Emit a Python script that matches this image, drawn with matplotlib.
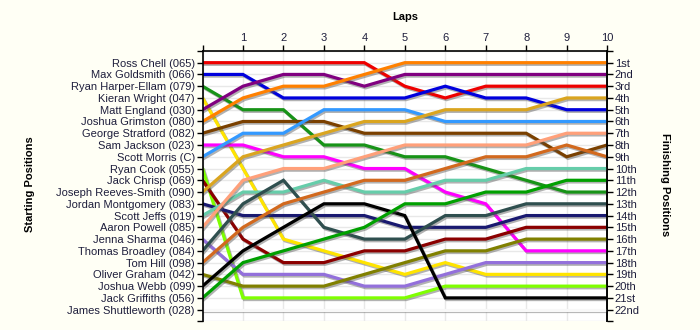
import matplotlib
matplotlib.use("Agg")
import matplotlib.pyplot as plt
import matplotlib.patheffects as pe

plt.rcParams['font.family'] = ['Liberation Sans', 'DejaVu Sans']

laps = list(range(0, 11))

drivers = [
    "Ross Chell (065)", "Max Goldsmith (066)", "Ryan Harper-Ellam (079)",
    "Kieran Wright (047)", "Matt England (030)", "Joshua Grimston (080)",
    "George Stratford (082)", "Sam Jackson (023)", "Scott Morris (C)",
    "Ryan Cook (055)", "Jack Chrisp (069)", "Joseph Reeves-Smith (090)",
    "Jordan Montgomery (083)", "Scott Jeffs (019)", "Aaron Powell (085)",
    "Jenna Sharma (046)", "Thomas Broadley (084)", "Tom Hill (098)",
    "Oliver Graham (042)", "Joshua Webb (099)", "Jack Griffiths (056)",
    "James Shuttleworth (028)",
]

colors = [
    "#ee0000", "#0000dd", "#179317", "#ffe400", "#800080", "#ff8000",
    "#7a4000", "#ff00ff", "#3399ff", "#7fff00", "#8b0000", "#daa520",
    "#191970", "#66cdaa", "#ffa07a", "#9370db", "#2f4f4f", "#d2691e",
    "#808000", "#000000", "#00a000", "#f8f8f8",
]

# position of each driver at the end of every lap (lap 0 = grid)
ross_chell        = [1, 1, 1, 1, 1, 3, 4, 3, 3, 3, 3]
max_goldsmith     = [2, 2, 4, 4, 4, 4, 3, 4, 4, 5, 5]
ryan_harper_ellam = [3, 5, 5, 8, 8, 9, 9, 10, 11, 12, 12]
kieran_wright     = [4, 10, 16, 17, 18, 19, 18, 19, 19, 19, 19]
matt_england      = [5, 3, 2, 2, 3, 2, 2, 2, 2, 2, 2]
joshua_grimston   = [6, 4, 3, 3, 2, 1, 1, 1, 1, 1, 1]
george_stratford  = [7, 6, 6, 6, 7, 7, 7, 7, 7, 9, 8]
sam_jackson       = [8, 8, 9, 9, 10, 10, 12, 13, 17, 17, 17]
scott_morris      = [9, 7, 7, 5, 5, 5, 6, 6, 6, 6, 6]
ryan_cook         = [10, 21, 21, 21, 21, 21, 20, 20, 20, 20, 20]
jack_chrisp       = [11, 16, 18, 18, 17, 17, 16, 16, 15, 15, 15]
joseph_reeves     = [12, 9, 8, 7, 6, 6, 5, 5, 5, 4, 4]
jordan_montgomery = [13, 14, 14, 14, 14, 15, 15, 15, 14, 14, 14]
scott_jeffs       = [14, 12, 12, 11, 12, 12, 11, 11, 10, 10, 10]
aaron_powell      = [15, 11, 10, 10, 9, 8, 8, 8, 8, 7, 7]
jenna_sharma      = [16, 19, 19, 19, 20, 20, 19, 18, 18, 18, 18]
thomas_broadley   = [17, 13, 11, 15, 16, 16, 14, 14, 13, 13, 13]
tom_hill          = [18, 15, 13, 12, 11, 11, 10, 9, 9, 8, 9]
oliver_graham     = [19, 20, 20, 20, 19, 18, 17, 17, 16, 16, 16]
joshua_webb       = [20, 17, 15, 13, 13, 14, 21, 21, 21, 21, 21]
jack_griffiths    = [21, 18, 17, 16, 15, 13, 13, 12, 12, 11, 11]
james_shuttleworth = [22, 22, 22, 22, 22, 22, 22, 22, 22, 22, 22]

positions = [
    ross_chell, max_goldsmith, ryan_harper_ellam, kieran_wright, matt_england,
    joshua_grimston, george_stratford, sam_jackson, scott_morris, ryan_cook,
    jack_chrisp, joseph_reeves, jordan_montgomery, scott_jeffs, aaron_powell,
    jenna_sharma, thomas_broadley, tom_hill, oliver_graham, joshua_webb,
    jack_griffiths, james_shuttleworth,
]

finish_labels = ["1st", "2nd", "3rd"] + [f"{i}th" for i in range(4, 21)] + ["21st", "22nd"]

text_color = "#1e1e3c"

fig = plt.figure(figsize=(7, 3.3), dpi=100, facecolor="#fffff5")
ax = fig.add_axes([0.2893, 0.026, 0.578, 0.8197])
ax.set_facecolor("white")

for pos, col in zip(positions, colors):
    ax.plot(laps, pos, color=col, lw=2.3, solid_joinstyle="miter",
            path_effects=[pe.SimpleLineShadow(offset=(1, -1.2), shadow_color="#555555", alpha=0.45),
                          pe.Normal()])

ax.set_xlim(0, 10)
ax.set_ylim(23, 0)

ax.xaxis.tick_top()
ax.set_xticks(laps)
ax.set_xticklabels([""] + [str(i) for i in laps[1:]])
ax.set_yticks(range(0, 24))
ax.set_yticklabels([""] + drivers + [""])
ax.grid(True, color="#e8e8e8", lw=1)
ax.set_axisbelow(True)

ax.tick_params(axis="both", direction="out", length=4, width=1, color="black",
               labelsize=8, labelcolor=text_color, pad=1.5)
ax.tick_params(axis="x", pad=2)

ax.spines["bottom"].set_visible(False)
for side in ["top", "left", "right"]:
    ax.spines[side].set_linewidth(1.2)

right = ax.secondary_yaxis("right")
right.set_yticks(range(0, 24))
right.set_yticklabels([""] + finish_labels + [""])
right.tick_params(direction="out", length=4, width=1, labelsize=8,
                  labelcolor=text_color, pad=1.5)
right.spines["right"].set_linewidth(1.2)

fig.text(0.579, 0.948, "Laps", fontsize=8, fontweight="bold",
         ha="center", va="center")
fig.text(0.043, 0.442, "Starting Positions", rotation=90, fontsize=8,
         fontweight="bold", ha="center", va="center")
fig.text(0.95, 0.442, "Finishing Positions", rotation=270, fontsize=8,
         fontweight="bold", ha="center", va="center")

fig.savefig("out.png", dpi=100, facecolor=fig.get_facecolor())
